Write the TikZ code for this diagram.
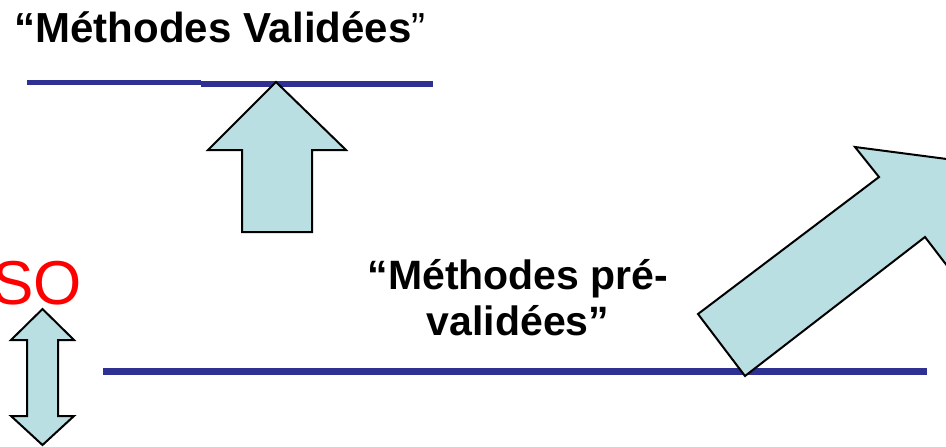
\documentclass[tikz,border=0pt]{standalone}
\usepackage{fontspec}
\setmainfont{Liberation Sans}
\definecolor{navyline}{RGB}{46,49,146}
\definecolor{arrowfill}{RGB}{185,223,226}
\definecolor{isored}{RGB}{255,0,0}
\begin{document}
\begin{tikzpicture}[x=1pt,y=-1pt,
  hline/.style={draw=navyline,line width=6pt},
  fatarrow/.style={draw=black,fill=arrowfill,line width=2pt,line join=miter},
  label/.style={inner sep=0pt,font=\fontsize{41}{46}\selectfont\bfseries,align=center}]
\useasboundingbox (0,0) rectangle (946,447);
\clip (0,0) rectangle (946,447);
% title
\node[label,font=\fontsize{42}{46}\selectfont\bfseries,anchor=base] (title) at (220,42) {“Méthodes Validées\mdseries”};
% top lines
\coordinate (t1) at (27,82);
\coordinate (t2) at (201,82);
\coordinate (t3) at (201,84);
\coordinate (t4) at (433,84);
\draw[hline,line width=5pt] (t1) -- (t2);
\draw[hline,line width=6pt] (t3) -- (t4);
% up arrow
\draw[fatarrow] (276,82) -- (346,150) -- (312,150) -- (312,232) -- (242,232) -- (242,150) -- (208,150) -- cycle;
% ISO text
\node[inner sep=0pt,anchor=base east,text=isored,font=\fontsize{62}{70}\selectfont] (iso) at (82,304) {SO};
% double arrow
\draw[fatarrow] (42.5,309) -- (74,340) -- (58,340) -- (58,416) -- (74,416) -- (42.5,445) -- (11,416) -- (27,416) -- (27,340) -- (11,340) -- cycle;
% lower line
\coordinate (b1) at (103,371.5);
\coordinate (b2) at (927,371.5);
\draw[hline,line width=7pt] (b1) -- (b2);
% lower text
\node[label,anchor=base] (pre) at (518,335) {“Méthodes pré-\\validées”};
% big diagonal arrow
\draw[fatarrow] (745,376) -- (698,314) -- (879,177) -- (855,147) -- (962,161) -- (948,267) -- (925,237) -- cycle;
\end{tikzpicture}
\end{document}
